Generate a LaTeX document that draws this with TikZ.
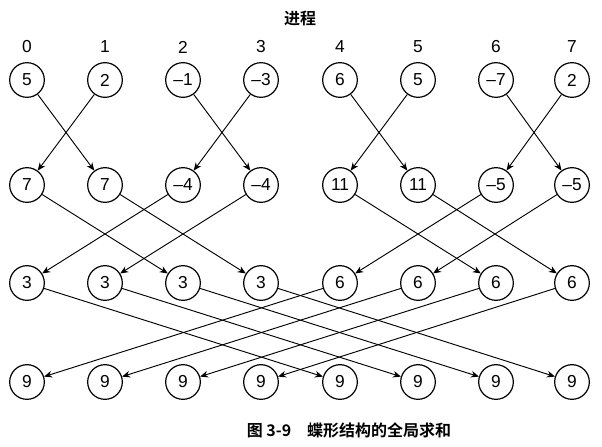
\documentclass[tikz,border=0pt]{standalone}
\usepackage{fontspec}
\setmainfont{Liberation Sans}
\newfontfamily\cjk{Noto Sans CJK SC}[BoldFont={Noto Sans CJK SC Bold}]
\usetikzlibrary{arrows.meta}
\begin{document}
\begin{tikzpicture}[x=0.75pt,y=-0.75pt,
  cnode/.style={circle,draw,line width=0.9pt,minimum size=26pt,inner sep=0pt,font=\fontsize{13}{13}\selectfont},
  arr/.style={-{Stealth[length=6pt,width=5pt]},line width=0.7pt},
  lab/.style={font=\fontsize{13}{13}\selectfont}]
\useasboundingbox (0,0) rectangle (602,446);
\def\xs{{27,105,183,261,340,418,496,572}}
\node[font=\cjk\bfseries\fontsize{12}{12}\selectfont] (title) at (300,18) {进程};
\foreach \i in {0,...,7}{
  \pgfmathsetmacro\xx{\xs[\i]}
  \node[lab] (l\i) at (\xx,47) {\i};
}
\foreach \r/\yy/\vals in {a/80/{5,2,–1,–3,6,5,–7,2},b/185/{7,7,–4,–4,11,11,–5,–5},c/283/{3,3,3,3,6,6,6,6},d/382/{9,9,9,9,9,9,9,9}}{
  \foreach \v [count=\k from 0] in \vals {
    \pgfmathsetmacro\xx{\xs[\k]}
    \node[cnode] (\r\k) at (\xx,\yy) {\v};
  }
}
\foreach \i/\j in {0/1,1/0,2/3,3/2,4/5,5/4,6/7,7/6}{\draw[arr] (a\i) -- (b\j);}
\foreach \i/\j in {0/2,2/0,1/3,3/1,4/6,6/4,5/7,7/5}{\draw[arr] (b\i) -- (c\j);}
\foreach \i/\j in {0/4,4/0,1/5,5/1,2/6,6/2,3/7,7/3}{\draw[arr] (c\i) -- (d\j);}
\node[font=\cjk\bfseries\fontsize{12}{12}\selectfont] (cap) at (349,430) {图 3-9\quad 蝶形结构的全局求和};
\end{tikzpicture}
\end{document}
